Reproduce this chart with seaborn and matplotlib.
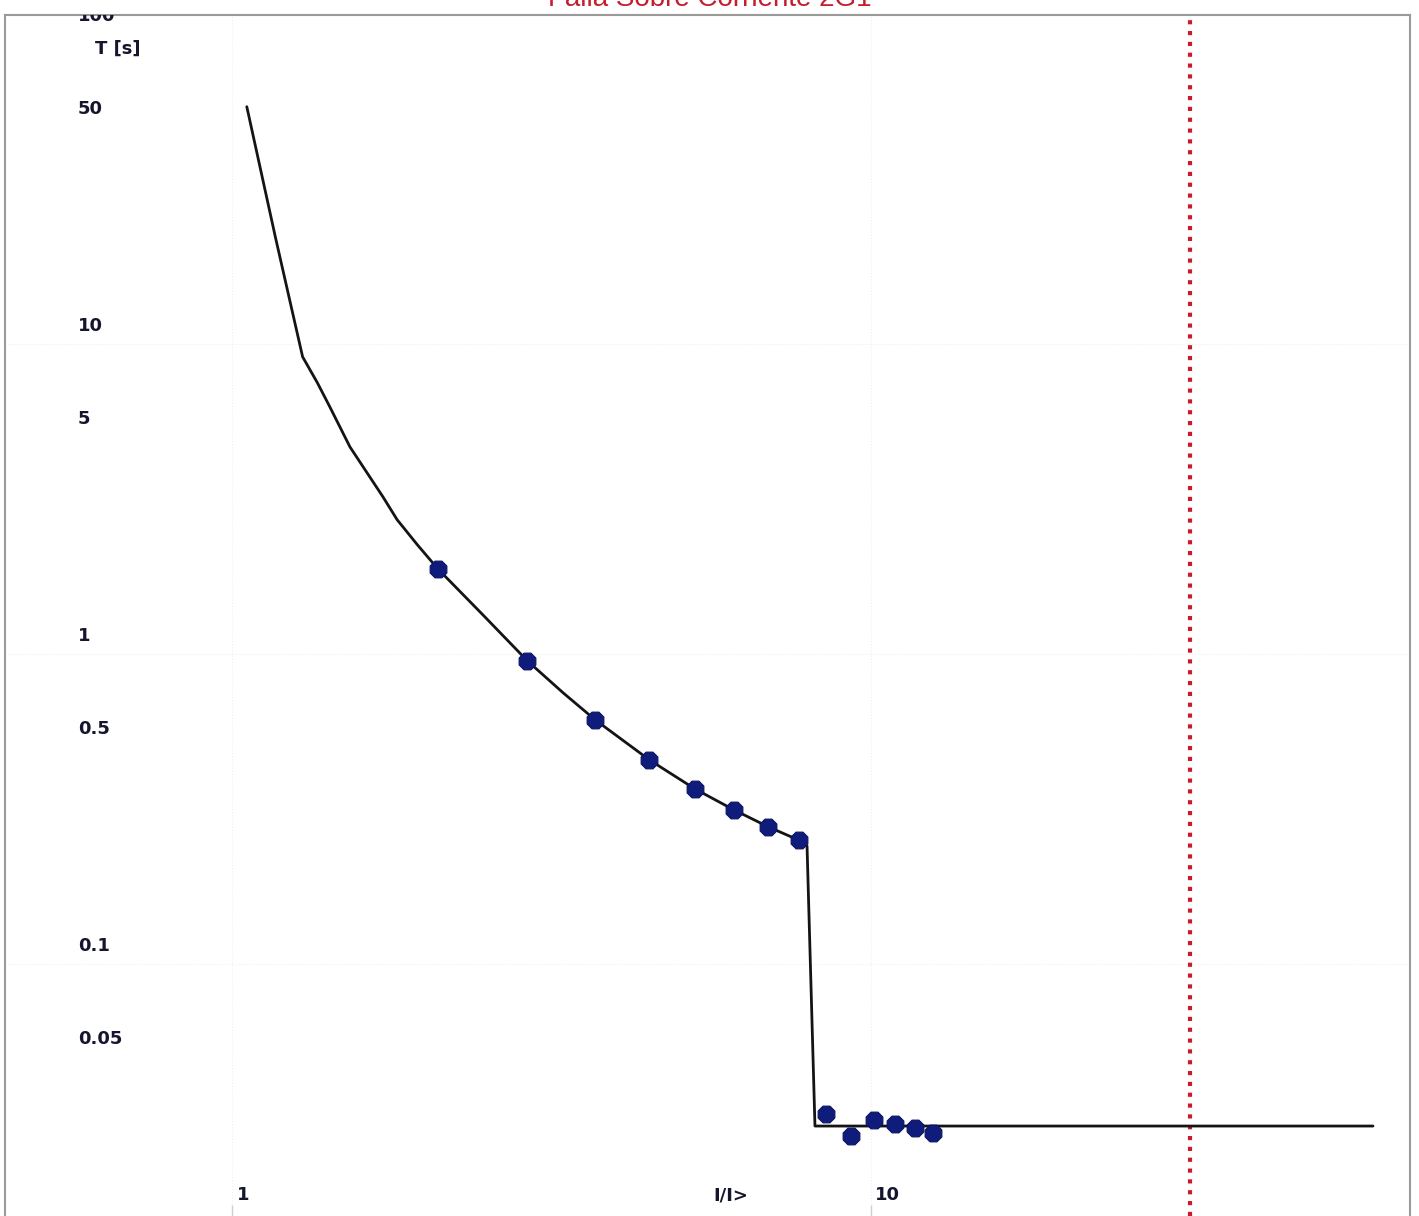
import matplotlib
matplotlib.use("Agg")
import matplotlib.pyplot as plt
import seaborn as sns
import pandas as pd

# Relay characteristic (multiples of pickup vs. trip time)
curve_I = [1.055, 1.17, 1.29, 1.36, 1.423, 1.53, 1.723, 1.813, 1.95, 2.1, 2.47,
           2.9, 3.30, 3.7, 4.5, 5.3, 6.1, 6.9, 7.7, 7.94, 8.17, 61.0]
curve_T = [58.2, 22.0, 9.08, 7.5, 6.26, 4.65, 3.21, 2.71, 2.25, 1.88, 1.336,
           0.949, 0.748, 0.613, 0.455, 0.367, 0.314, 0.277, 0.251, 0.240, 0.030, 0.030]

# Injected test points
test_I = [2.1, 2.9, 3.7, 4.5, 5.3, 6.1, 6.9, 7.7, 8.5, 9.3, 10.1, 10.9, 11.7, 12.5]
test_T = [1.88, 0.949, 0.613, 0.455, 0.367, 0.314, 0.277, 0.251, 0.0328, 0.0279, 0.0314, 0.0305, 0.0296, 0.0285]

# Maximum current marker
max_I = 31.5

y_ticks = [100, 50, 10, 5, 1, 0.5, 0.1, 0.05]
y_tick_labels = ["100", "50", "10", "5", "1", "0.5", "0.1", "0.05"]
x_ticks = [1, 10]
x_tick_labels = ["1", "10"]

title = "Falla Sobre Corriente 2G1"

sns.set_theme(style="white")
plt.rcParams["font.family"] = ["DejaVu Sans"]

W, H = 1419, 1216
fig = plt.figure(figsize=(W / 100, H / 100), dpi=100)
ax = fig.add_axes([5 / W, 0, 1405 / W, (H - 15) / H])

ax.set_xscale("log")
ax.set_yscale("log")
ax.set_xlim(0.4415, 69.7)
ax.set_ylim(0.01538, 115)

# faint grid at decades
for v in [1, 10]:
    ax.axvline(v, color="#f0f0f0", lw=0.8, ls=":", zorder=0)
for v in [0.1, 1, 10]:
    ax.axhline(v, color="#f0f0f0", lw=0.8, ls=":", zorder=0)

curve = pd.DataFrame({"I": curve_I, "T": curve_T})
tests = pd.DataFrame({"I": test_I, "T": test_T})

sns.lineplot(data=curve, x="I", y="T", sort=False, color="#141414",
             linewidth=2.0, ax=ax, zorder=3)
sns.scatterplot(data=tests, x="I", y="T", marker="8", s=170,
                color="#0f1c7c", edgecolor="#0a1460", linewidth=0.8,
                ax=ax, zorder=4)

ax.axvline(max_I, color="#cc1a2a", lw=3.0, ls=(0, (1, 1.6)), zorder=2)

for s in ["top", "left", "right"]:
    ax.spines[s].set_color("#9a9a9a")
    ax.spines[s].set_linewidth(1.5)
ax.spines["bottom"].set_visible(False)

ax.set_xlabel("")
ax.set_ylabel("")
ax.set_xticks(x_ticks)
ax.set_xticklabels([])
ax.set_xticks([], minor=True)
ax.set_yticks([])
ax.set_yticks([], minor=True)
ax.tick_params(axis="x", direction="in", length=8, width=1, color="#cfcfcf",
               bottom=True, top=False)

label_kw = dict(fontsize=13, fontweight="bold", color="#15152e")
ytrans = ax.get_yaxis_transform()
for v, t in zip(y_ticks, y_tick_labels):
    ax.annotate(t, xy=(0, v), xycoords=ytrans, xytext=(73, 18),
                textcoords="offset pixels", ha="left", va="center",
                annotation_clip=False, clip_on=True, **label_kw)

xtrans = ax.get_xaxis_transform()
for v, t, dx in zip(x_ticks, x_tick_labels, [11, 16]):
    ax.annotate(t, xy=(v, 0), xycoords=xtrans, xytext=(dx, 21),
                textcoords="offset pixels", ha="center", va="center",
                annotation_clip=False, **label_kw)

fig.text(118 / W, 1 - 49 / H, "T [s]", ha="center", va="center", **label_kw)
fig.text(731 / W, 1 - 1196 / H, "I/I>", ha="center", va="center", **label_kw)

fig.text(710 / W, 1 - 6 / H, title, ha="center", va="baseline",
         fontsize=20, color="#c41e2e", family=["Liberation Sans", "DejaVu Sans"])

fig.savefig("out.png", dpi=100)
